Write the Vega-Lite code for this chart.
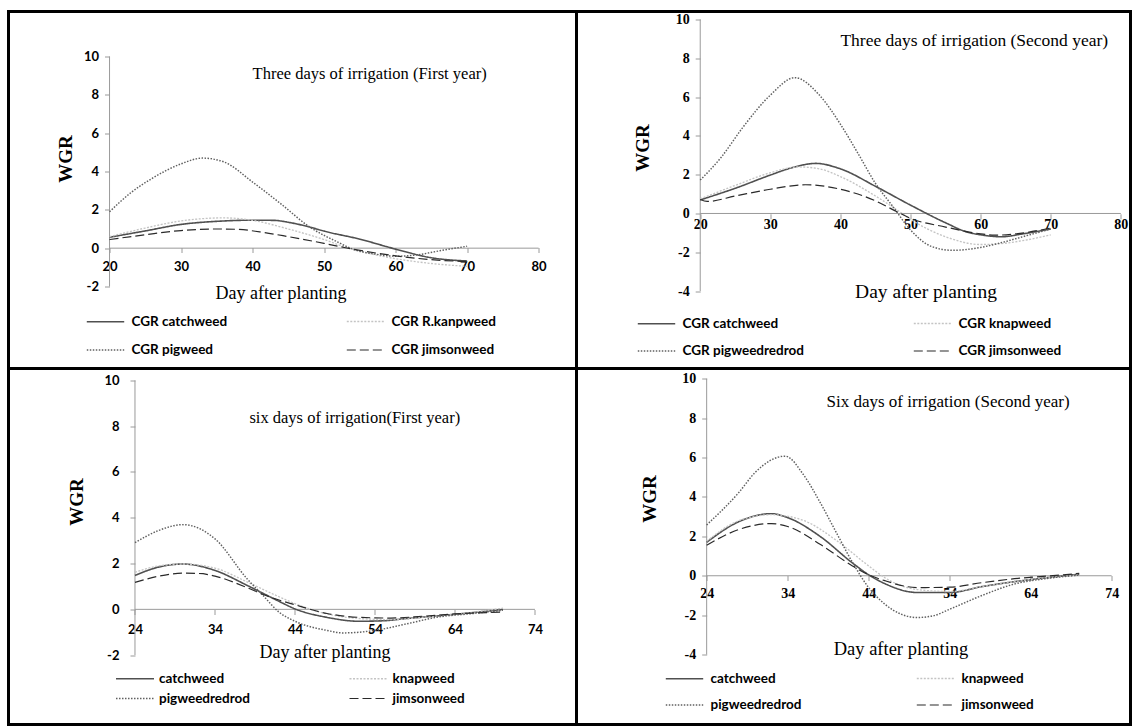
{
  "$schema": "https://vega.github.io/schema/vega-lite/v6.json",
  "padding": {"left": 6.5, "top": 9.5, "right": 0, "bottom": 0},
  "bounds": "flush",
  "spacing": 0,
  "columns": 2,
  "datasets": {
    "tl": [
      {"day": 20, "wgr": 0.57, "series": "CGR catchweed"},
      {"day": 25, "wgr": 0.9, "series": "CGR catchweed"},
      {"day": 30, "wgr": 1.24, "series": "CGR catchweed"},
      {"day": 35, "wgr": 1.4, "series": "CGR catchweed"},
      {"day": 40, "wgr": 1.46, "series": "CGR catchweed"},
      {"day": 43, "wgr": 1.45, "series": "CGR catchweed"},
      {"day": 45, "wgr": 1.35, "series": "CGR catchweed"},
      {"day": 48, "wgr": 1.1, "series": "CGR catchweed"},
      {"day": 50, "wgr": 0.89, "series": "CGR catchweed"},
      {"day": 55, "wgr": 0.47, "series": "CGR catchweed"},
      {"day": 60, "wgr": -0.05, "series": "CGR catchweed"},
      {"day": 65, "wgr": -0.5, "series": "CGR catchweed"},
      {"day": 70, "wgr": -0.67, "series": "CGR catchweed"},
      {"day": 20, "wgr": 0.6, "series": "CGR R.kanpweed"},
      {"day": 25, "wgr": 1.05, "series": "CGR R.kanpweed"},
      {"day": 30, "wgr": 1.42, "series": "CGR R.kanpweed"},
      {"day": 36, "wgr": 1.58, "series": "CGR R.kanpweed"},
      {"day": 40, "wgr": 1.45, "series": "CGR R.kanpweed"},
      {"day": 45, "wgr": 1.0, "series": "CGR R.kanpweed"},
      {"day": 50, "wgr": 0.45, "series": "CGR R.kanpweed"},
      {"day": 53, "wgr": 0.05, "series": "CGR R.kanpweed"},
      {"day": 56, "wgr": -0.25, "series": "CGR R.kanpweed"},
      {"day": 60, "wgr": -0.55, "series": "CGR R.kanpweed"},
      {"day": 65, "wgr": -0.8, "series": "CGR R.kanpweed"},
      {"day": 70, "wgr": -0.95, "series": "CGR R.kanpweed"},
      {"day": 20, "wgr": 1.9, "series": "CGR pigweed"},
      {"day": 23, "wgr": 2.9, "series": "CGR pigweed"},
      {"day": 26, "wgr": 3.65, "series": "CGR pigweed"},
      {"day": 30, "wgr": 4.4, "series": "CGR pigweed"},
      {"day": 33, "wgr": 4.7, "series": "CGR pigweed"},
      {"day": 36, "wgr": 4.5, "series": "CGR pigweed"},
      {"day": 40, "wgr": 3.45, "series": "CGR pigweed"},
      {"day": 44, "wgr": 2.3, "series": "CGR pigweed"},
      {"day": 48, "wgr": 1.1, "series": "CGR pigweed"},
      {"day": 52, "wgr": 0.3, "series": "CGR pigweed"},
      {"day": 54, "wgr": -0.05, "series": "CGR pigweed"},
      {"day": 57, "wgr": -0.3, "series": "CGR pigweed"},
      {"day": 60, "wgr": -0.42, "series": "CGR pigweed"},
      {"day": 63, "wgr": -0.35, "series": "CGR pigweed"},
      {"day": 66, "wgr": -0.15, "series": "CGR pigweed"},
      {"day": 70, "wgr": 0.1, "series": "CGR pigweed"},
      {"day": 20, "wgr": 0.45, "series": "CGR jimsonweed"},
      {"day": 25, "wgr": 0.7, "series": "CGR jimsonweed"},
      {"day": 30, "wgr": 0.92, "series": "CGR jimsonweed"},
      {"day": 35, "wgr": 1.0, "series": "CGR jimsonweed"},
      {"day": 38, "wgr": 0.98, "series": "CGR jimsonweed"},
      {"day": 41, "wgr": 0.85, "series": "CGR jimsonweed"},
      {"day": 45, "wgr": 0.6, "series": "CGR jimsonweed"},
      {"day": 50, "wgr": 0.25, "series": "CGR jimsonweed"},
      {"day": 53, "wgr": 0.02, "series": "CGR jimsonweed"},
      {"day": 56, "wgr": -0.18, "series": "CGR jimsonweed"},
      {"day": 60, "wgr": -0.4, "series": "CGR jimsonweed"},
      {"day": 65, "wgr": -0.6, "series": "CGR jimsonweed"},
      {"day": 70, "wgr": -0.7, "series": "CGR jimsonweed"}
    ],
    "tr": [
      {"day": 20, "wgr": 0.7, "series": "CGR catchweed"},
      {"day": 25, "wgr": 1.3, "series": "CGR catchweed"},
      {"day": 30, "wgr": 1.98, "series": "CGR catchweed"},
      {"day": 33, "wgr": 2.35, "series": "CGR catchweed"},
      {"day": 36.5, "wgr": 2.58, "series": "CGR catchweed"},
      {"day": 40, "wgr": 2.3, "series": "CGR catchweed"},
      {"day": 45, "wgr": 1.4, "series": "CGR catchweed"},
      {"day": 50, "wgr": 0.43, "series": "CGR catchweed"},
      {"day": 55, "wgr": -0.48, "series": "CGR catchweed"},
      {"day": 58, "wgr": -0.95, "series": "CGR catchweed"},
      {"day": 60, "wgr": -1.1, "series": "CGR catchweed"},
      {"day": 63, "wgr": -1.2, "series": "CGR catchweed"},
      {"day": 66, "wgr": -1.05, "series": "CGR catchweed"},
      {"day": 70, "wgr": -0.8, "series": "CGR catchweed"},
      {"day": 20, "wgr": 0.75, "series": "CGR knapweed"},
      {"day": 25, "wgr": 1.45, "series": "CGR knapweed"},
      {"day": 30, "wgr": 2.1, "series": "CGR knapweed"},
      {"day": 34, "wgr": 2.4, "series": "CGR knapweed"},
      {"day": 37, "wgr": 2.3, "series": "CGR knapweed"},
      {"day": 40, "wgr": 1.9, "series": "CGR knapweed"},
      {"day": 45, "wgr": 0.9, "series": "CGR knapweed"},
      {"day": 48, "wgr": 0.2, "series": "CGR knapweed"},
      {"day": 50, "wgr": -0.3, "series": "CGR knapweed"},
      {"day": 55, "wgr": -1.2, "series": "CGR knapweed"},
      {"day": 60, "wgr": -1.6, "series": "CGR knapweed"},
      {"day": 63, "wgr": -1.55, "series": "CGR knapweed"},
      {"day": 66, "wgr": -1.4, "series": "CGR knapweed"},
      {"day": 70, "wgr": -1.1, "series": "CGR knapweed"},
      {"day": 20, "wgr": 1.72, "series": "CGR pigweedredrod"},
      {"day": 23, "wgr": 2.9, "series": "CGR pigweedredrod"},
      {"day": 26, "wgr": 4.4, "series": "CGR pigweedredrod"},
      {"day": 30, "wgr": 6.1, "series": "CGR pigweedredrod"},
      {"day": 33.5, "wgr": 7.0, "series": "CGR pigweedredrod"},
      {"day": 37, "wgr": 6.1, "series": "CGR pigweedredrod"},
      {"day": 40, "wgr": 4.6, "series": "CGR pigweedredrod"},
      {"day": 42.5, "wgr": 3.1, "series": "CGR pigweedredrod"},
      {"day": 45, "wgr": 1.55, "series": "CGR pigweedredrod"},
      {"day": 47.5, "wgr": 0.35, "series": "CGR pigweedredrod"},
      {"day": 50, "wgr": -0.85, "series": "CGR pigweedredrod"},
      {"day": 53, "wgr": -1.7, "series": "CGR pigweedredrod"},
      {"day": 56, "wgr": -1.9, "series": "CGR pigweedredrod"},
      {"day": 60, "wgr": -1.75, "series": "CGR pigweedredrod"},
      {"day": 63, "wgr": -1.5, "series": "CGR pigweedredrod"},
      {"day": 66, "wgr": -1.2, "series": "CGR pigweedredrod"},
      {"day": 70, "wgr": -0.8, "series": "CGR pigweedredrod"},
      {"day": 20, "wgr": 0.72, "series": "CGR jimsonweed"},
      {"day": 21, "wgr": 0.62, "series": "CGR jimsonweed"},
      {"day": 25, "wgr": 0.9, "series": "CGR jimsonweed"},
      {"day": 30, "wgr": 1.25, "series": "CGR jimsonweed"},
      {"day": 35, "wgr": 1.48, "series": "CGR jimsonweed"},
      {"day": 40, "wgr": 1.25, "series": "CGR jimsonweed"},
      {"day": 45, "wgr": 0.65, "series": "CGR jimsonweed"},
      {"day": 48, "wgr": 0.1, "series": "CGR jimsonweed"},
      {"day": 50, "wgr": -0.25, "series": "CGR jimsonweed"},
      {"day": 55, "wgr": -0.7, "series": "CGR jimsonweed"},
      {"day": 60, "wgr": -1.05, "series": "CGR jimsonweed"},
      {"day": 62, "wgr": -1.12, "series": "CGR jimsonweed"},
      {"day": 65, "wgr": -1.05, "series": "CGR jimsonweed"},
      {"day": 70, "wgr": -0.75, "series": "CGR jimsonweed"}
    ],
    "bl": [
      {"day": 24, "wgr": 1.48, "series": "catchweed"},
      {"day": 27, "wgr": 1.85, "series": "catchweed"},
      {"day": 30, "wgr": 1.98, "series": "catchweed"},
      {"day": 34, "wgr": 1.7, "series": "catchweed"},
      {"day": 38, "wgr": 1.05, "series": "catchweed"},
      {"day": 40, "wgr": 0.7, "series": "catchweed"},
      {"day": 42, "wgr": 0.35, "series": "catchweed"},
      {"day": 44, "wgr": 0.02, "series": "catchweed"},
      {"day": 48, "wgr": -0.35, "series": "catchweed"},
      {"day": 52, "wgr": -0.52, "series": "catchweed"},
      {"day": 55, "wgr": -0.5, "series": "catchweed"},
      {"day": 58, "wgr": -0.4, "series": "catchweed"},
      {"day": 62, "wgr": -0.28, "series": "catchweed"},
      {"day": 66, "wgr": -0.15, "series": "catchweed"},
      {"day": 70, "wgr": 0.0, "series": "catchweed"},
      {"day": 24, "wgr": 1.62, "series": "knapweed"},
      {"day": 27, "wgr": 1.9, "series": "knapweed"},
      {"day": 30, "wgr": 1.98, "series": "knapweed"},
      {"day": 34, "wgr": 1.8, "series": "knapweed"},
      {"day": 38, "wgr": 1.2, "series": "knapweed"},
      {"day": 42, "wgr": 0.55, "series": "knapweed"},
      {"day": 44, "wgr": 0.25, "series": "knapweed"},
      {"day": 48, "wgr": -0.2, "series": "knapweed"},
      {"day": 52, "wgr": -0.4, "series": "knapweed"},
      {"day": 56, "wgr": -0.45, "series": "knapweed"},
      {"day": 60, "wgr": -0.35, "series": "knapweed"},
      {"day": 64, "wgr": -0.22, "series": "knapweed"},
      {"day": 70, "wgr": 0.05, "series": "knapweed"},
      {"day": 24, "wgr": 2.91, "series": "pigweedredrod"},
      {"day": 27, "wgr": 3.45, "series": "pigweedredrod"},
      {"day": 30, "wgr": 3.7, "series": "pigweedredrod"},
      {"day": 34, "wgr": 3.08, "series": "pigweedredrod"},
      {"day": 38, "wgr": 1.34, "series": "pigweedredrod"},
      {"day": 40, "wgr": 0.61, "series": "pigweedredrod"},
      {"day": 42, "wgr": -0.12, "series": "pigweedredrod"},
      {"day": 44, "wgr": -0.52, "series": "pigweedredrod"},
      {"day": 48, "wgr": -0.92, "series": "pigweedredrod"},
      {"day": 50, "wgr": -1.03, "series": "pigweedredrod"},
      {"day": 54, "wgr": -0.92, "series": "pigweedredrod"},
      {"day": 58, "wgr": -0.63, "series": "pigweedredrod"},
      {"day": 62, "wgr": -0.33, "series": "pigweedredrod"},
      {"day": 66, "wgr": -0.19, "series": "pigweedredrod"},
      {"day": 70, "wgr": -0.04, "series": "pigweedredrod"},
      {"day": 24, "wgr": 1.18, "series": "jimsonweed"},
      {"day": 27, "wgr": 1.45, "series": "jimsonweed"},
      {"day": 30, "wgr": 1.58, "series": "jimsonweed"},
      {"day": 32, "wgr": 1.57, "series": "jimsonweed"},
      {"day": 34, "wgr": 1.45, "series": "jimsonweed"},
      {"day": 38, "wgr": 0.95, "series": "jimsonweed"},
      {"day": 40, "wgr": 0.65, "series": "jimsonweed"},
      {"day": 44, "wgr": 0.2, "series": "jimsonweed"},
      {"day": 48, "wgr": -0.18, "series": "jimsonweed"},
      {"day": 52, "wgr": -0.35, "series": "jimsonweed"},
      {"day": 56, "wgr": -0.38, "series": "jimsonweed"},
      {"day": 60, "wgr": -0.3, "series": "jimsonweed"},
      {"day": 64, "wgr": -0.2, "series": "jimsonweed"},
      {"day": 70, "wgr": -0.12, "series": "jimsonweed"}
    ],
    "br": [
      {"day": 24, "wgr": 1.7, "series": "catchweed"},
      {"day": 28, "wgr": 2.75, "series": "catchweed"},
      {"day": 32, "wgr": 3.15, "series": "catchweed"},
      {"day": 34, "wgr": 2.95, "series": "catchweed"},
      {"day": 38, "wgr": 2.0, "series": "catchweed"},
      {"day": 42, "wgr": 0.65, "series": "catchweed"},
      {"day": 44, "wgr": 0.05, "series": "catchweed"},
      {"day": 46, "wgr": -0.4, "series": "catchweed"},
      {"day": 50, "wgr": -0.85, "series": "catchweed"},
      {"day": 54, "wgr": -0.85, "series": "catchweed"},
      {"day": 58, "wgr": -0.55, "series": "catchweed"},
      {"day": 62, "wgr": -0.3, "series": "catchweed"},
      {"day": 66, "wgr": -0.1, "series": "catchweed"},
      {"day": 70, "wgr": 0.08, "series": "catchweed"},
      {"day": 24, "wgr": 1.75, "series": "knapweed"},
      {"day": 28, "wgr": 2.8, "series": "knapweed"},
      {"day": 32, "wgr": 3.1, "series": "knapweed"},
      {"day": 36, "wgr": 2.8, "series": "knapweed"},
      {"day": 40, "wgr": 1.8, "series": "knapweed"},
      {"day": 44, "wgr": 0.5, "series": "knapweed"},
      {"day": 46, "wgr": -0.1, "series": "knapweed"},
      {"day": 50, "wgr": -0.7, "series": "knapweed"},
      {"day": 54, "wgr": -0.8, "series": "knapweed"},
      {"day": 58, "wgr": -0.55, "series": "knapweed"},
      {"day": 62, "wgr": -0.3, "series": "knapweed"},
      {"day": 66, "wgr": -0.1, "series": "knapweed"},
      {"day": 70, "wgr": 0.05, "series": "knapweed"},
      {"day": 24, "wgr": 2.58, "series": "pigweedredrod"},
      {"day": 28, "wgr": 4.24, "series": "pigweedredrod"},
      {"day": 30, "wgr": 5.25, "series": "pigweedredrod"},
      {"day": 33.7, "wgr": 6.07, "series": "pigweedredrod"},
      {"day": 36, "wgr": 5.1, "series": "pigweedredrod"},
      {"day": 38, "wgr": 3.73, "series": "pigweedredrod"},
      {"day": 40, "wgr": 2.2, "series": "pigweedredrod"},
      {"day": 42, "wgr": 0.68, "series": "pigweedredrod"},
      {"day": 44, "wgr": -0.6, "series": "pigweedredrod"},
      {"day": 46, "wgr": -1.44, "series": "pigweedredrod"},
      {"day": 48, "wgr": -1.95, "series": "pigweedredrod"},
      {"day": 50, "wgr": -2.12, "series": "pigweedredrod"},
      {"day": 52, "wgr": -2.03, "series": "pigweedredrod"},
      {"day": 54, "wgr": -1.7, "series": "pigweedredrod"},
      {"day": 58, "wgr": -1.0, "series": "pigweedredrod"},
      {"day": 62, "wgr": -0.42, "series": "pigweedredrod"},
      {"day": 66, "wgr": -0.14, "series": "pigweedredrod"},
      {"day": 70, "wgr": 0.03, "series": "pigweedredrod"},
      {"day": 24, "wgr": 1.55, "series": "jimsonweed"},
      {"day": 28, "wgr": 2.35, "series": "jimsonweed"},
      {"day": 32, "wgr": 2.65, "series": "jimsonweed"},
      {"day": 34, "wgr": 2.5, "series": "jimsonweed"},
      {"day": 38, "wgr": 1.6, "series": "jimsonweed"},
      {"day": 42, "wgr": 0.5, "series": "jimsonweed"},
      {"day": 44, "wgr": 0.05, "series": "jimsonweed"},
      {"day": 46, "wgr": -0.25, "series": "jimsonweed"},
      {"day": 50, "wgr": -0.6, "series": "jimsonweed"},
      {"day": 54, "wgr": -0.58, "series": "jimsonweed"},
      {"day": 58, "wgr": -0.35, "series": "jimsonweed"},
      {"day": 62, "wgr": -0.15, "series": "jimsonweed"},
      {"day": 66, "wgr": -0.02, "series": "jimsonweed"},
      {"day": 70, "wgr": 0.12, "series": "jimsonweed"}
    ]
  },
  "concat": [
    {
      "width": 568, "height": 357,
      "layer": [
        {
          "data": {"values": [{}]},
          "mark": {"type": "rule", "color": "#9a9a9a", "strokeWidth": 1},
          "encoding": {"x": {"datum": 20, "type": "quantitative"}, "y": {"datum": -2, "type": "quantitative"}, "y2": {"datum": 10}}
        },
        {
          "data": {"values": [{}]},
          "mark": {"type": "rule", "color": "#9a9a9a", "strokeWidth": 1},
          "encoding": {"x": {"datum": 20, "type": "quantitative"}, "x2": {"datum": 80}, "y": {"datum": 0, "type": "quantitative"}}
        },
        {
          "data": {"name": "tl"},
          "mark": {"type": "line", "interpolate": "monotone"},
          "encoding": {
            "x": {"field": "day", "type": "quantitative", "scale": {"domain": [5.87, 85.3], "nice": false, "zero": false},
              "axis": {"values": [20, 30, 40, 50, 60, 70, 80], "offset": -121, "labelPadding": 8, "title": "Day after planting", "titleX": 272, "titlePadding": 11, "titleFont": "Liberation Serif", "titleFontSize": 18, "labelFont": "Lato", "labelFontSize": 13}},
            "y": {"field": "wgr", "type": "quantitative", "scale": {"domain": [-6.28, 12.35], "nice": false, "zero": false},
              "axis": {"values": [-2, 0, 2, 4, 6, 8, 10], "offset": -101, "labelPadding": 6, "title": "WGR", "titleY": 147, "titlePadding": 8, "titleFontSize": 19, "labelFont": "Lato", "labelFontSize": 13}},
            "color": {"field": "series", "type": "nominal", "scale": {"domain": ["CGR catchweed", "CGR pigweed", "CGR R.kanpweed", "CGR jimsonweed"], "range": ["#505050", "#606060", "#c4c4c4", "#2a2a2a"]},
              "legend": {"title": null, "orient": "none", "legendX": 77, "legendY": 290, "columnPadding": 116, "rowPadding": 2}},
            "strokeDash": {"field": "series", "type": "nominal", "scale": {"domain": ["CGR catchweed", "CGR pigweed", "CGR R.kanpweed", "CGR jimsonweed"], "range": [[1, 0], [1.5, 1.5], [2, 1.5], [9, 4]]},
              "legend": {"title": null, "orient": "none", "legendX": 77, "legendY": 290, "columnPadding": 116, "rowPadding": 2}},
            "strokeWidth": {"field": "series", "type": "nominal", "scale": {"domain": ["CGR catchweed", "CGR pigweed", "CGR R.kanpweed", "CGR jimsonweed"], "range": [1.6, 1.2, 1.5, 2.2]},
              "legend": {"title": null, "orient": "none", "legendX": 77, "legendY": 290, "columnPadding": 116, "rowPadding": 2}}
          }
        },
        {
          "data": {"values": [{}]},
          "mark": {"type": "text", "font": "Liberation Serif", "fontSize": 16.5, "align": "left", "baseline": "middle", "color": "#000"},
          "encoding": {"x": {"datum": 40, "type": "quantitative"}, "y": {"datum": 9.1, "type": "quantitative"}, "text": {"value": "Three  days of irrigation (First year)"}}
        }
      ]
    },
    {
      "width": 554, "height": 357,
      "layer": [
        {
          "data": {"values": [{}]},
          "mark": {"type": "rule", "color": "#9a9a9a", "strokeWidth": 1},
          "encoding": {"x": {"datum": 20, "type": "quantitative"}, "y": {"datum": -4, "type": "quantitative"}, "y2": {"datum": 10}}
        },
        {
          "data": {"values": [{}]},
          "mark": {"type": "rule", "color": "#9a9a9a", "strokeWidth": 1},
          "encoding": {"x": {"datum": 20, "type": "quantitative"}, "x2": {"datum": 80}, "y": {"datum": 0, "type": "quantitative"}}
        },
        {
          "data": {"name": "tr"},
          "mark": {"type": "line", "interpolate": "monotone"},
          "encoding": {
            "x": {"field": "day", "type": "quantitative", "scale": {"domain": [2.35, 81.38], "nice": false, "zero": false},
              "axis": {"values": [20, 30, 40, 50, 60, 70, 80], "offset": -154.7, "labelPadding": -1, "title": "Day after planting", "titleX": 349, "titlePadding": 51, "titleFont": "Liberation Serif", "titleFontSize": 19.5, "labelFont": "Liberation Serif", "labelFontSize": 14}},
            "y": {"field": "wgr", "type": "quantitative", "scale": {"domain": [-7.99, 10.41], "nice": false, "zero": false},
              "axis": {"values": [-4, -2, 0, 2, 4, 6, 8, 10], "offset": -123.7, "labelPadding": 6, "title": "WGR", "titleY": 136, "titlePadding": 23, "titleFontSize": 19, "labelFont": "Liberation Serif", "labelFontSize": 14}},
            "color": {"field": "series", "type": "nominal", "scale": {"domain": ["CGR catchweed", "CGR pigweedredrod", "CGR knapweed", "CGR jimsonweed"], "range": ["#505050", "#606060", "#c4c4c4", "#2a2a2a"]},
              "legend": {"title": null, "orient": "none", "legendX": 60, "legendY": 292, "columnPadding": 106, "rowPadding": 1}},
            "strokeDash": {"field": "series", "type": "nominal", "scale": {"domain": ["CGR catchweed", "CGR pigweedredrod", "CGR knapweed", "CGR jimsonweed"], "range": [[1, 0], [1.5, 1.5], [2, 1.5], [9, 4]]},
              "legend": {"title": null, "orient": "none", "legendX": 60, "legendY": 292, "columnPadding": 106, "rowPadding": 1}},
            "strokeWidth": {"field": "series", "type": "nominal", "scale": {"domain": ["CGR catchweed", "CGR pigweedredrod", "CGR knapweed", "CGR jimsonweed"], "range": [1.6, 1.2, 1.5, 2.2]},
              "legend": {"title": null, "orient": "none", "legendX": 60, "legendY": 292, "columnPadding": 106, "rowPadding": 1}}
          }
        },
        {
          "data": {"values": [{}]},
          "mark": {"type": "text", "font": "Liberation Serif", "fontSize": 17.5, "align": "left", "baseline": "middle", "color": "#000"},
          "encoding": {"x": {"datum": 40, "type": "quantitative"}, "y": {"datum": 8.9, "type": "quantitative"}, "text": {"value": "Three days of irrigation (Second year)"}}
        }
      ]
    },
    {
      "width": 568, "height": 356,
      "layer": [
        {
          "data": {"values": [{}]},
          "mark": {"type": "rule", "color": "#9a9a9a", "strokeWidth": 1},
          "encoding": {"x": {"datum": 24, "type": "quantitative"}, "y": {"datum": -2, "type": "quantitative"}, "y2": {"datum": 10}}
        },
        {
          "data": {"values": [{}]},
          "mark": {"type": "rule", "color": "#9a9a9a", "strokeWidth": 1},
          "encoding": {"x": {"datum": 24, "type": "quantitative"}, "x2": {"datum": 74}, "y": {"datum": 0, "type": "quantitative"}}
        },
        {
          "data": {"name": "bl"},
          "mark": {"type": "line", "interpolate": "monotone"},
          "encoding": {
            "x": {"field": "day", "type": "quantitative", "scale": {"domain": [8.19, 79.19], "nice": false, "zero": false},
              "axis": {"values": [24, 34, 44, 54, 64, 74], "offset": -115, "labelPadding": 8.5, "title": "Day after planting", "titleX": 316, "titlePadding": 7.5, "titleFont": "Liberation Serif", "titleFontSize": 18, "labelFont": "Lato", "labelFontSize": 13}},
            "y": {"field": "wgr", "type": "quantitative", "scale": {"domain": [-5.03, 10.52], "nice": false, "zero": false},
              "axis": {"values": [-2, 0, 2, 4, 6, 8, 10], "offset": -126.5, "labelPadding": 11, "title": "WGR", "titleY": 133, "titlePadding": 17, "titleFontSize": 19, "labelFont": "Lato", "labelFontSize": 13}},
            "color": {"field": "series", "type": "nominal", "scale": {"domain": ["catchweed", "pigweedredrod", "knapweed", "jimsonweed"], "range": ["#505050", "#606060", "#c4c4c4", "#2a2a2a"]},
              "legend": {"title": null, "orient": "none", "legendX": 115.5, "legendY": 299, "columnPadding": 96.5, "rowPadding": 2, "symbolType": "M-1.9,0H1.9", "symbolSize": 400, "labelOffset": 13}},
            "strokeDash": {"field": "series", "type": "nominal", "scale": {"domain": ["catchweed", "pigweedredrod", "knapweed", "jimsonweed"], "range": [[1, 0], [1.5, 1.5], [2, 1.5], [9, 4]]},
              "legend": {"title": null, "orient": "none", "legendX": 115.5, "legendY": 299, "columnPadding": 96.5, "rowPadding": 2, "symbolType": "M-1.9,0H1.9", "symbolSize": 400, "labelOffset": 13}},
            "strokeWidth": {"field": "series", "type": "nominal", "scale": {"domain": ["catchweed", "pigweedredrod", "knapweed", "jimsonweed"], "range": [1.6, 1.2, 1.5, 2.2]},
              "legend": {"title": null, "orient": "none", "legendX": 115.5, "legendY": 299, "columnPadding": 96.5, "rowPadding": 2, "symbolType": "M-1.9,0H1.9", "symbolSize": 400, "labelOffset": 13}}
          }
        },
        {
          "data": {"values": [{}]},
          "mark": {"type": "text", "font": "Liberation Serif", "fontSize": 16.5, "align": "left", "baseline": "middle", "color": "#000"},
          "encoding": {"x": {"datum": 38.3, "type": "quantitative"}, "y": {"datum": 8.34, "type": "quantitative"}, "text": {"value": "six days of irrigation(First year)"}}
        }
      ]
    },
    {
      "width": 554, "height": 356,
      "layer": [
        {
          "data": {"values": [{}]},
          "mark": {"type": "rule", "color": "#9a9a9a", "strokeWidth": 1},
          "encoding": {"x": {"datum": 24, "type": "quantitative"}, "y": {"datum": -4, "type": "quantitative"}, "y2": {"datum": 10}}
        },
        {
          "data": {"values": [{}]},
          "mark": {"type": "rule", "color": "#9a9a9a", "strokeWidth": 1},
          "encoding": {"x": {"datum": 24, "type": "quantitative"}, "x2": {"datum": 74}, "y": {"datum": 0, "type": "quantitative"}}
        },
        {
          "data": {"name": "br"},
          "mark": {"type": "line", "interpolate": "monotone"},
          "encoding": {
            "x": {"field": "day", "type": "quantitative", "scale": {"domain": [7.93, 76.33], "nice": false, "zero": false},
              "axis": {"values": [24, 34, 44, 54, 64, 74], "offset": -149, "labelPadding": 5.5, "title": "Day after planting", "titleX": 324, "titlePadding": 39.5, "titleFont": "Liberation Serif", "titleFontSize": 18.5, "labelFont": "Liberation Serif", "labelFontSize": 14}},
            "y": {"field": "wgr", "type": "quantitative", "scale": {"domain": [-7.55, 10.52], "nice": false, "zero": false},
              "axis": {"values": [-4, -2, 0, 2, 4, 6, 8, 10], "offset": -130.2, "labelPadding": 6, "title": "WGR", "titleY": 130, "titlePadding": 22, "titleFontSize": 19, "labelFont": "Liberation Serif", "labelFontSize": 14}},
            "color": {"field": "series", "type": "nominal", "scale": {"domain": ["catchweed", "pigweedredrod", "knapweed", "jimsonweed"], "range": ["#505050", "#606060", "#c4c4c4", "#2a2a2a"]},
              "legend": {"title": null, "orient": "none", "legendX": 88, "legendY": 290, "columnPadding": 112, "rowPadding": 0}},
            "strokeDash": {"field": "series", "type": "nominal", "scale": {"domain": ["catchweed", "pigweedredrod", "knapweed", "jimsonweed"], "range": [[1, 0], [1.5, 1.5], [2, 1.5], [9, 4]]},
              "legend": {"title": null, "orient": "none", "legendX": 88, "legendY": 290, "columnPadding": 112, "rowPadding": 0}},
            "strokeWidth": {"field": "series", "type": "nominal", "scale": {"domain": ["catchweed", "pigweedredrod", "knapweed", "jimsonweed"], "range": [1.6, 1.2, 1.5, 2.2]},
              "legend": {"title": null, "orient": "none", "legendX": 88, "legendY": 290, "columnPadding": 112, "rowPadding": 0}}
          }
        },
        {
          "data": {"values": [{}]},
          "mark": {"type": "text", "font": "Liberation Serif", "fontSize": 17, "align": "left", "baseline": "middle", "color": "#000"},
          "encoding": {"x": {"datum": 38.8, "type": "quantitative"}, "y": {"datum": 8.84, "type": "quantitative"}, "text": {"value": "Six days of irrigation (Second year)"}}
        }
      ]
    }
  ],
  "resolve": {"scale": {"x": "independent", "y": "independent", "color": "independent", "strokeDash": "independent", "strokeWidth": "independent"}, "legend": {"color": "independent", "strokeDash": "independent", "strokeWidth": "independent"}},
  "config": {
    "view": {"stroke": "#000000", "strokeWidth": 3},
    "axis": {"grid": false, "domain": false, "ticks": true, "tickSize": 5, "tickColor": "#9a9a9a", "labelColor": "#000", "labelFontWeight": "bold", "labelOverlap": false, "labelFlush": false, "labelExpr": "'' + datum.value", "titleColor": "#000", "titleFont": "Liberation Serif", "titleFontWeight": "bold"},
    "axisX": {"titleFontWeight": "normal"},
    "legend": {"symbolType": "stroke", "symbolSize": 1400, "labelFont": "Lato", "labelFontWeight": "bold", "labelFontSize": 13.5, "labelColor": "#000", "labelOffset": 6, "columns": 2, "padding": 0, "symbolOpacity": 1}
  }
}
